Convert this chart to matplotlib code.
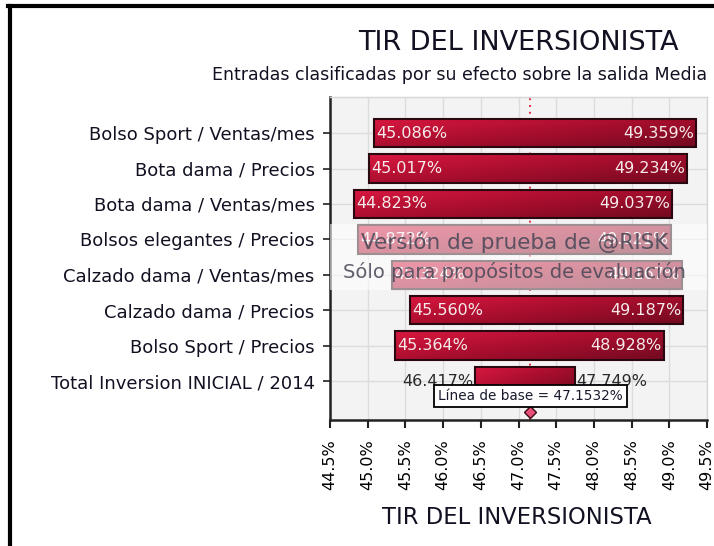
import numpy as np
import matplotlib as mpl
import matplotlib.pyplot as plt
from matplotlib.patches import Rectangle
from matplotlib.colors import LinearSegmentedColormap
from matplotlib.lines import Line2D

# datos del tornado (TIR del inversionista)
categorias = ["Bolso Sport / Ventas/mes",
              "Bota dama / Precios",
              "Bota dama / Ventas/mes",
              "Bolsos elegantes / Precios",
              "Calzado dama / Ventas/mes",
              "Calzado dama / Precios",
              "Bolso Sport / Precios",
              "Total Inversion INICIAL / 2014"]
bajo = [45.086, 45.017, 44.823, 44.872, 45.324, 45.560, 45.364, 46.417]
alto = [49.359, 49.234, 49.037, 49.021, 49.167, 49.187, 48.928, 47.749]
base = 47.1532
xticks = [44.5, 45.0, 45.5, 46.0, 46.5, 47.0, 47.5, 48.0, 48.5, 49.0, 49.5]

W, H = 714, 546
def fx(px):
    return px / W
def fy(py):
    return 1 - py / H

mpl.rcParams['font.family'] = 'DejaVu Sans'
fig = plt.figure(figsize=(W / 100, H / 100), dpi=100)
ax = fig.add_axes([fx(330), fy(420), fx(707) - fx(330), fy(97) - fy(420)])
ax.set_facecolor('#f3f3f3')

cmap = LinearSegmentedColormap.from_list('rojo', ['#d8173f', '#a80e2e', '#740a20'])
gx, gy = np.meshgrid(np.linspace(0, 1, 64), np.linspace(0, 1, 16))
grad = 0.55 * gx + 0.45 * gy

alto_barra = 0.8
for i, (lo, hi) in enumerate(zip(bajo, alto)):
    rect = Rectangle((lo, i - alto_barra / 2), hi - lo, alto_barra,
                     facecolor='none', edgecolor='#2a0810', lw=1.5, zorder=4)
    ax.add_patch(rect)
    im = ax.imshow(grad, cmap=cmap, aspect='auto', interpolation='bilinear',
                   extent=(lo, hi, i + alto_barra / 2, i - alto_barra / 2), zorder=3)
    im.set_clip_path(rect)
    if i < len(bajo) - 1:
        ax.text(lo + 0.03, i, f"{lo:.3f}%", ha='left', va='center', color='#f6eaea',
                fontsize=11.5, zorder=5)
        ax.text(hi - 0.03, i, f"{hi:.3f}%", ha='right', va='center', color='#f6eaea',
                fontsize=11.5, zorder=5)
    else:
        ax.text(lo - 0.02, i, f"{lo:.3f}%", ha='right', va='center', color='#2a2a2a',
                fontsize=11.5, zorder=5)
        ax.text(hi + 0.02, i, f"{hi:.3f}%", ha='left', va='center', color='#2a2a2a',
                fontsize=11.5, zorder=5)

# linea de base
ax.axvline(base, color='#e0304a', ls=(0, (1, 2.5)), lw=1.4, zorder=2)
ax.plot([base], [7.88], marker='D', ms=6, color='#e8507a', mec='#3a0a14', mew=1,
        zorder=6, clip_on=False)
ax.text(base, 7.43, f"Línea de base = {base:.4f}%", ha='center', va='center',
        fontsize=9.8, color='#1a1a2e', zorder=7,
        bbox=dict(boxstyle='square,pad=0.3', fc='white', ec='black', lw=1.3))

ax.set_xlim(44.5, 49.5)
ax.set_ylim(8.1, -1.02)
ax.set_xticks(xticks)
ax.set_xticklabels([f"{t:.1f}%" for t in xticks], rotation=90, fontsize=11.5)
ax.set_yticks(range(len(categorias)))
ax.set_yticklabels(categorias, fontsize=13, color='#111122')
ax.tick_params(axis='x', length=6, width=1.5, pad=8, color='#222222')
ax.tick_params(axis='y', length=5, width=1.2, pad=6, color='#222222')
ax.grid(True, color='#dcdcdc', lw=1, zorder=0)
ax.set_axisbelow(True)
for s in ['left', 'bottom']:
    ax.spines[s].set_color('#222222')
    ax.spines[s].set_linewidth(1.8)
for s in ['top', 'right']:
    ax.spines[s].set_color('#d6d6d6')
    ax.spines[s].set_linewidth(1)

# marca de agua @RISK
ax.add_patch(Rectangle((44.5, 2.57), 5.0, 1.86, transform=ax.transData,
                       facecolor='white', alpha=0.55, edgecolor='none', zorder=8))
ax.text(46.95, 3.08, "Versión de prueba de @RISK", ha='center', va='center',
        fontsize=15.5, color='#454555', alpha=0.85, zorder=9)
ax.text(46.95, 3.93, "Sólo para propósitos de evaluación", ha='center', va='center',
        fontsize=14, color='#454555', alpha=0.85, zorder=9)

# titulos
fig.text(fx(518), fy(43), "TIR DEL INVERSIONISTA", ha='center', va='center',
         fontsize=19.5, color='#111122')
fig.text(fx(707), fy(75), "Entradas clasificadas por su efecto sobre la salida Media",
         ha='right', va='center', fontsize=12.5, color='#111122')
fig.text(fx(517), fy(517), "TIR DEL INVERSIONISTA", ha='center', va='center',
         fontsize=16.3, color='#111122')

# borde negro
fig.add_artist(Line2D([fx(8), 1], [fy(6), fy(6)], color='black', lw=3))
fig.add_artist(Line2D([fx(10), fx(10)], [fy(6), 0], color='black', lw=3))

fig.savefig('out.png', dpi=100)
